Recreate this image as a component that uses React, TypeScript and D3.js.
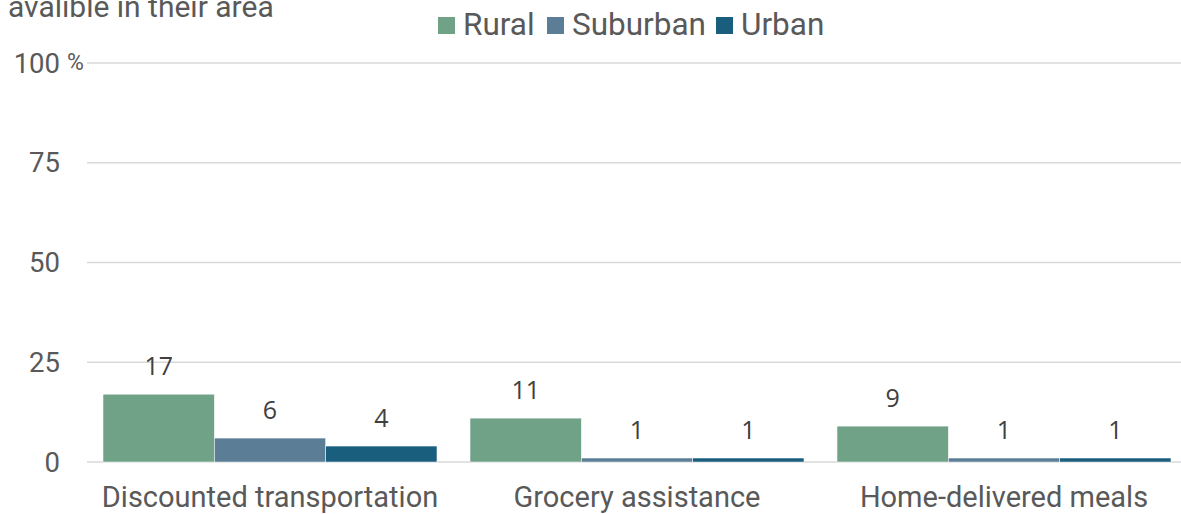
import React from "react";
import * as d3 from "d3";

const categories = ["Discounted transportation", "Grocery assistance", "Home-delivered meals"];
const seriesNames = ["Rural", "Suburban", "Urban"];
const rural = [17, 11, 9];
const suburban = [6, 1, 1];
const urban = [4, 1, 1];
const yTicks = [0, 25, 50, 75, 100];
const colors = ["#6fa287", "#5b7e96", "#1a5e7e"];
const titleText = "avalible in their area";

export default function App() {
  const W = 1181, H = 514;
  const series = [rural, suburban, urban];
  const x0 = d3.scaleBand<string>().domain(categories).range([86.5, 1187.5]).paddingInner(0.09).paddingOuter(0.045);
  const x1 = d3.scaleBand<string>().domain(seriesNames).range([0, x0.bandwidth()]);
  const y = d3.scaleLinear().domain([0, 100]).range([462, 63]);
  const font = "Roboto, 'Noto Sans', sans-serif";
  const labelFont = "'Open Sans', 'Noto Sans', sans-serif";
  const textColor = "#595959";
  const legendX = [438, 547, 716];
  return (
    <svg width={W} height={H} style={{ position: "absolute", left: 0, top: 0, background: "#fff" }}>
      <text x={8} y={17} fontFamily={font} fontSize={30} fill={textColor}>{titleText}</text>
      {yTicks.map((t) => (
        <g key={t}>
          <line x1={87} x2={W} y1={y(t)} y2={y(t)} stroke="#d9d9d9" strokeWidth={1.5} />
          <text x={60} y={y(t)} dy="0.35em" textAnchor="end" fontFamily={font} fontSize={27.5} fill={textColor}>{t}</text>
          {t === 100 && (
            <text x={67} y={y(t) + 7} fontFamily={font} fontSize={23} fill={textColor}>%</text>
          )}
        </g>
      ))}
      {categories.map((c, i) => (
        <g key={c}>
          {series.map((s, j) => {
            const bx = (x0(c) as number) + (x1(seriesNames[j]) as number);
            const v = s[i];
            return (
              <g key={j}>
                <rect x={bx} y={y(v)} width={x1.bandwidth()} height={y(0) - y(v)} fill={colors[j]} stroke="#fff" strokeWidth={0.5} />
                <text x={bx + x1.bandwidth() / 2} y={y(v) - 19} textAnchor="middle" fontFamily={labelFont} fontSize={25} fill="#404040">{v}</text>
              </g>
            );
          })}
          <text x={(x0(c) as number) + x0.bandwidth() / 2} y={507} textAnchor="middle" fontFamily={font} fontSize={29} fill={textColor}>{c}</text>
        </g>
      ))}
      {seriesNames.map((n, j) => (
        <g key={n}>
          <rect x={legendX[j]} y={17} width={17} height={17} fill={colors[j]} />
          <text x={legendX[j] + 25} y={35} fontFamily={font} fontSize={31.5} fill={textColor}>{n}</text>
        </g>
      ))}
    </svg>
  );
}
